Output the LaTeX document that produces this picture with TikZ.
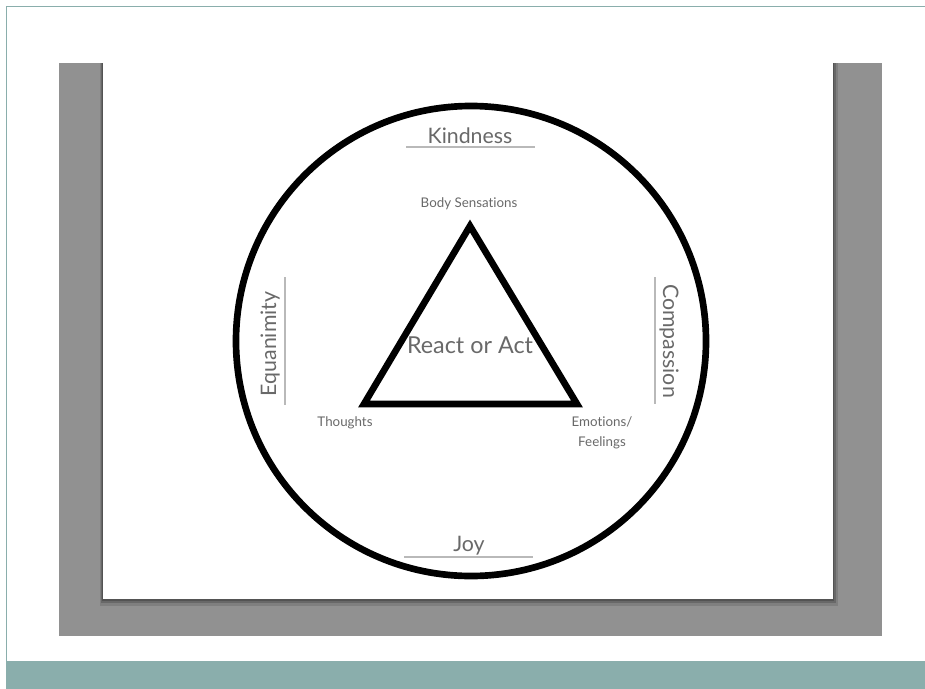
\documentclass[tikz,border=0pt]{standalone}
\usepackage{fontspec}
\setmainfont[Ligatures={NoCommon,NoRare}]{Lato}
\usetikzlibrary{positioning}
\definecolor{frameteal}{RGB}{138,174,172}
\definecolor{matgray}{RGB}{145,145,145}
\definecolor{labelgray}{RGB}{105,105,105}
\definecolor{rulegray}{RGB}{185,185,185}
\tikzset{every picture/.style={line width=0.75pt}}
\tikzset{
  lbl/.style={text=labelgray, inner sep=0pt, anchor=base},
  virtue/.style={lbl, font=\fontsize{16}{19}\selectfont},
  corner/.style={lbl, font=\fontsize{10}{15}\selectfont},
  underline/.style={rulegray, line width=1.3pt},
  bold ring/.style={black, line width=5pt}
}

\begin{document}
\begin{tikzpicture}[x=0.75pt,y=-0.75pt]
    \useasboundingbox (0,0) rectangle (925,689);
    % slide frame
    \fill[white] (0,0) rectangle (925,689);
    \draw[frameteal,line width=1.1pt] (6.5,689) -- (6.5,6.5) -- (925,6.5);
    \fill[frameteal] (6,661) rectangle (925,689);

    % grey mat and the page with its shadow
    \fill[matgray] (59,63) rectangle (882,636);
    \fill[black,opacity=0.12] (100,63) rectangle (838,606);
    \fill[black,opacity=0.18] (101,63) rectangle (836,603);
    \fill[black,opacity=0.2] (102,63) rectangle (834,601);
    \fill[white] (103,63) rectangle (833,599);

    % outer circle
    \draw[bold ring] (471,341) circle (235);

    % triangle
    \coordinate (top) at (470,226);
    \coordinate (left) at (364,404);
    \coordinate (right) at (577,404);
    \draw[bold ring, line join=miter] (top) -- (left) -- (right) -- cycle;

    % corner labels
    \node[corner] (body) at (469,207.5) {Body Sensations};
    \node[corner] (thoughts) at (345,426) {Thoughts};
    \node[corner, align=center] (emotions) at (602,446) {Emotions/\\Feelings};
    \node[lbl, font=\fontsize{17.5}{20}\selectfont] (react) at (470,353) {React or Act};

    % virtues round the circle
    \node[virtue] (kindness) at (470,143) {Kindness};
    \draw[underline] (406,147) -- (535,147);
    \node[virtue] (joy) at (469,551) {Joy};
    \draw[underline] (404,557) -- (533,557);
    \node[virtue, rotate=90] (equanimity) at (276,344) {Equanimity};
    \draw[underline] (285,277) -- (285,405);
    \node[virtue, rotate=-90] (compassion) at (663,341) {Compassion};
    \draw[underline] (655,277) -- (655,404);
\end{tikzpicture}
\end{document}
